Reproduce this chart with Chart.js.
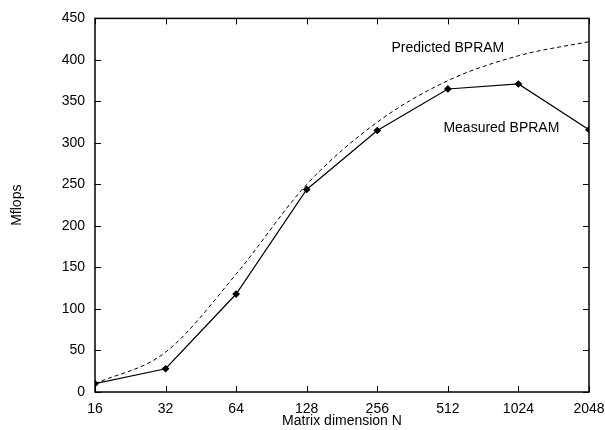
<!DOCTYPE html>
<html>
<head>
<meta charset="utf-8">
<script src="https://cdn.jsdelivr.net/npm/chart.js@4"></script>
<style>
	html, body { margin: 0; padding: 0; background: #fff; }
	#wrap { width: 605px; height: 430px; }
</style>
</head>
<body>
<div id="wrap"><canvas id="chart0" width="605" height="430"></canvas></div>
<script>
// 行列サイズ N
let sizes = [16, 32, 64, 128, 256, 512, 1024, 2048];
// 実測値 (Mflops)
let measured = [10, 28, 118, 244, 315, 365, 371, 316];
// 予測値 (Mflops)
let predicted = [10, 48, 142, 250, 325, 375, 405, 422];
let yTicks = [0, 50, 100, 150, 200, 250, 300, 350, 400, 450];

let fontFamily = "'Liberation Sans', Arial, Helvetica, sans-serif";

/**
 * 内向きの目盛り・枠線・系列名を描く
 */
let framePlugin = {
	id: 'frame',
	afterDraw(chart) {
		let ctx = chart.ctx;
		let a = chart.chartArea;
		let xs = chart.scales.x;
		let ys = chart.scales.y;
		ctx.save();
		ctx.strokeStyle = '#000';
		ctx.lineWidth = 1;
		ctx.beginPath();
		sizes.forEach(v => {
			let px = Math.round(xs.getPixelForValue(v)) + 0.5;
			ctx.moveTo(px, a.bottom); ctx.lineTo(px, a.bottom - 6);
			ctx.moveTo(px, a.top); ctx.lineTo(px, a.top + 6);
		});
		yTicks.forEach(v => {
			let py = Math.round(ys.getPixelForValue(v)) + 0.5;
			ctx.moveTo(a.left, py); ctx.lineTo(a.left + 6, py);
			ctx.moveTo(a.right, py); ctx.lineTo(a.right - 6, py);
		});
		ctx.stroke();
		ctx.lineWidth = 1.5;
		ctx.strokeRect(a.left, a.top, a.right - a.left, a.bottom - a.top);

		ctx.fillStyle = '#000';
		ctx.font = '14px ' + fontFamily;
		ctx.textAlign = 'center';
		ctx.textBaseline = 'middle';
		ctx.fillText('Predicted BPRAM', xs.getPixelForValue(512), ys.getPixelForValue(414));
		ctx.fillText('Measured BPRAM', xs.getPixelForValue(866), ys.getPixelForValue(318));
		ctx.restore();
	}
};

let config = {
	type: 'line',
	data: {
		datasets: [{
			label: 'Predicted BPRAM',
			data: sizes.map((n, i) => ({ x: n, y: predicted[i] })),
			borderColor: '#000',
			borderWidth: 1,
			borderDash: [4, 3],
			pointRadius: 0,
			cubicInterpolationMode: 'monotone',
			fill: false
		}, {
			label: 'Measured BPRAM',
			data: sizes.map((n, i) => ({ x: n, y: measured[i] })),
			borderColor: '#000',
			borderWidth: 1.2,
			pointStyle: 'rectRot',
			pointRadius: 3,
			pointBackgroundColor: '#000',
			pointBorderColor: '#000',
			tension: 0,
			fill: false
		}]
	},
	options: {
		responsive: false,
		animation: false,
		layout: { padding: { left: 0, right: 0, top: 15, bottom: 0 } },
		plugins: {
			legend: { display: false },
			tooltip: { enabled: false },
			frame: {}
		},
		scales: {
			x: {
				type: 'logarithmic',
				min: 16,
				max: 2048,
				afterBuildTicks: scale => {
					scale.ticks = sizes.map(v => ({ value: v }));
				},
				afterFit: scale => {
					scale.height = 38;
					scale.paddingLeft = 0;
					scale.paddingRight = 16;
				},
				grid: { display: false, drawTicks: false },
				border: { display: false },
				ticks: {
					autoSkip: false,
					maxRotation: 0,
					padding: 9,
					color: '#000',
					font: { family: fontFamily, size: 14 },
					callback: v => String(v)
				},
				title: {
					display: true,
					text: 'Matrix dimension N',
					color: '#000',
					padding: { top: -2, bottom: 0 },
					font: { family: fontFamily, size: 14 }
				}
			},
			y: {
				min: 0,
				max: 450,
				afterBuildTicks: scale => {
					scale.ticks = yTicks.map(v => ({ value: v }));
				},
				afterFit: scale => { scale.width = 95; },
				grid: { display: false, drawTicks: false },
				border: { display: false },
				ticks: {
					padding: 10,
					color: '#000',
					font: { family: fontFamily, size: 14 }
				},
				title: {
					display: true,
					text: 'Mflops',
					color: '#000',
					padding: { top: 9, bottom: 0 },
					font: { family: fontFamily, size: 14 }
				}
			}
		}
	},
	plugins: [framePlugin]
};

let grapharea = document.getElementById('chart0').getContext('2d');
window.myChart = new Chart(grapharea, config);
</script>
</body>
</html>
